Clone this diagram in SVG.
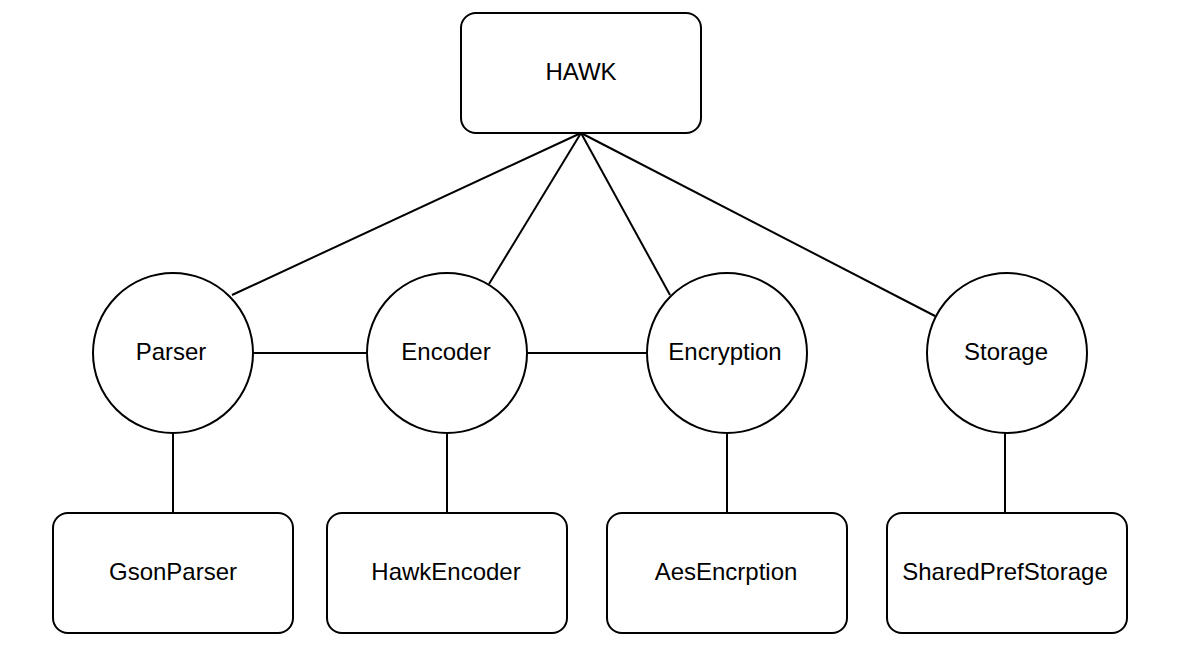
<svg xmlns="http://www.w3.org/2000/svg" width="1184" height="668" viewBox="0 0 1184 668">
<style>
.box{fill:#fff;stroke:#000;stroke-width:2}
.lbl{font-family:"Liberation Sans",Arial,sans-serif;font-size:24px;fill:#000;text-anchor:middle}
.con line{stroke:#000;stroke-width:2}
</style>
<rect width="1184" height="668" fill="#fff"/>
<g id="connectors" class="con">
<line x1="581" y1="133" x2="232" y2="295"/>
<line x1="581" y1="133" x2="489" y2="284"/>
<line x1="581" y1="133" x2="670" y2="295"/>
<line x1="581" y1="133" x2="935" y2="316"/>
<line x1="253" y1="353" x2="367" y2="353"/>
<line x1="527" y1="353" x2="647" y2="353"/>
<line x1="173" y1="433" x2="173" y2="514"/>
<line x1="447" y1="433" x2="447" y2="514"/>
<line x1="727" y1="433" x2="727" y2="514"/>
<line x1="1005" y1="433" x2="1005" y2="514"/>
</g>
<g id="hawk"><rect class="box" x="461" y="13" width="240" height="120" rx="15"/><text class="lbl" x="581" y="80">HAWK</text></g>
<g id="parser"><circle class="box" cx="173" cy="353" r="80"/><text class="lbl" x="171" y="360">Parser</text></g>
<g id="encoder"><circle class="box" cx="447" cy="353" r="80"/><text class="lbl" x="446" y="360">Encoder</text></g>
<g id="encryption"><circle class="box" cx="727" cy="353" r="80"/><text class="lbl" x="725" y="360">Encryption</text></g>
<g id="storage"><circle class="box" cx="1007" cy="353" r="80"/><text class="lbl" x="1006" y="360">Storage</text></g>
<g id="gsonparser"><rect class="box" x="53" y="513" width="240" height="120" rx="15"/><text class="lbl" x="173" y="580">GsonParser</text></g>
<g id="hawkencoder"><rect class="box" x="327" y="513" width="240" height="120" rx="15"/><text class="lbl" x="446" y="580">HawkEncoder</text></g>
<g id="aesencryption"><rect class="box" x="607" y="513" width="240" height="120" rx="15"/><text class="lbl" x="726" y="580">AesEncrption</text></g>
<g id="sharedprefstorage"><rect class="box" x="887" y="513" width="240" height="120" rx="15"/><text class="lbl" x="1005" y="580">SharedPrefStorage</text></g>
</svg>
